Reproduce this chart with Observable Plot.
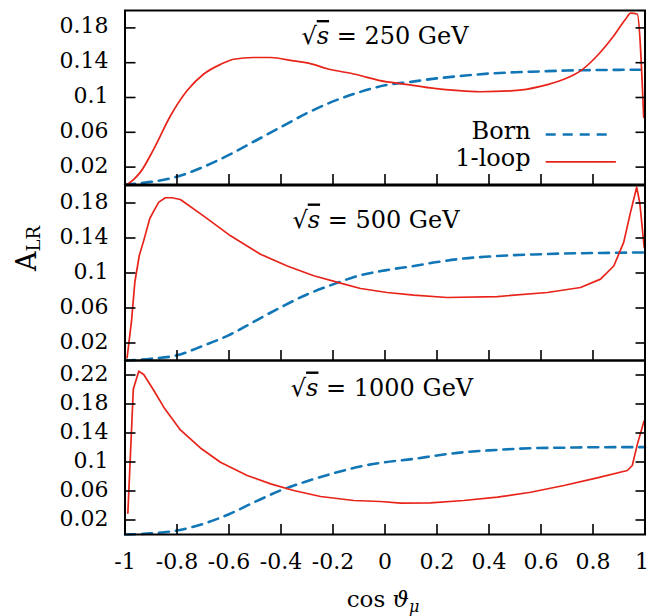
<!DOCTYPE html>
<html><head><meta charset="utf-8">
<script src="https://cdn.jsdelivr.net/npm/d3@7"></script>
<script src="https://cdn.jsdelivr.net/npm/@observablehq/plot@0.6"></script>
<style>
body{margin:0;background:#fff;}
#chart{position:relative;width:649px;height:616px;background:#fff;overflow:hidden;}
#chart svg{position:absolute;left:0;}
</style></head><body><div id="chart"></div>
<script>
// ---- data ----
const energies = [250, 500, 1000];
const seriesNames = ["Born", "1-loop"];
const xTicks = [-1, -0.8, -0.6, -0.4, -0.2, 0, 0.2, 0.4, 0.6, 0.8, 1];
const xTickLabels = ["-1", "-0.8", "-0.6", "-0.4", "-0.2", "0", "0.2", "0.4", "0.6", "0.8", "1"];
const yTicksA = [0.02, 0.06, 0.1, 0.14, 0.18];
const yTickLabelsA = ["0.02", "0.06", "0.1", "0.14", "0.18"];
const yTicksB = [0.02, 0.06, 0.1, 0.14, 0.18, 0.22];
const yTickLabelsB = ["0.02", "0.06", "0.1", "0.14", "0.18", "0.22"];

// sqrt(s) = 250 GeV
const born250X = [-1, -0.9, -0.8, -0.7, -0.6, -0.5, -0.4, -0.3, -0.2, -0.1, 0, 0.1, 0.2, 0.3, 0.4, 0.5, 0.6, 0.7, 0.8, 0.9, 1];
const born250Y = [0, 0.003, 0.009, 0.020, 0.034, 0.050, 0.066, 0.082, 0.0955, 0.106, 0.114, 0.118, 0.122, 0.125, 0.1275, 0.129, 0.130, 0.131, 0.1315, 0.1318, 0.132];
const loop250X = [-0.992, -0.966, -0.94, -0.889, -0.825, -0.761, -0.697, -0.633, -0.582, -0.505, -0.44, -0.351, -0.287, -0.222, -0.12, 0.008, 0.047, 0.175, 0.367, 0.495, 0.598, 0.688, 0.752, 0.816, 0.88, 0.925, 0.945, 0.97, 0.995];
const loop250Y = [0, 0.006, 0.0145, 0.041, 0.079, 0.108, 0.127, 0.138, 0.144, 0.146, 0.146, 0.142, 0.139, 0.133, 0.127, 0.118, 0.1166, 0.111, 0.1066, 0.1078, 0.1128, 0.121, 0.1306, 0.148, 0.171, 0.19, 0.197, 0.196, 0.077];

// sqrt(s) = 500 GeV
const born500X = [-1, -0.9, -0.8, -0.7, -0.6, -0.5, -0.4, -0.3, -0.2, -0.1, 0, 0.111, 0.2, 0.303, 0.4, 0.497, 0.6, 0.688, 0.8, 0.9, 1];
const born500Y = [0, 0.002, 0.006, 0.0168, 0.029, 0.045, 0.061, 0.0755, 0.087, 0.097, 0.103, 0.108, 0.1125, 0.1166, 0.1188, 0.1204, 0.1215, 0.1223, 0.1228, 0.1232, 0.1235];
const loop500X = [-0.992, -0.975, -0.962, -0.945, -0.928, -0.905, -0.889, -0.87, -0.845, -0.82, -0.787, -0.697, -0.594, -0.479, -0.376, -0.274, -0.171, -0.094, 0.008, 0.111, 0.239, 0.432, 0.624, 0.752, 0.829, 0.88, 0.918, 0.944, 0.968, 0.98, 0.997];
const loop500Y = [0.003, 0.045, 0.09, 0.12, 0.137, 0.162, 0.171, 0.181, 0.186, 0.186, 0.184, 0.165, 0.1425, 0.1215, 0.108, 0.0968, 0.0884, 0.0823, 0.0777, 0.0747, 0.072, 0.0731, 0.0777, 0.0834, 0.093, 0.108, 0.135, 0.169, 0.198, 0.18, 0.129];

// sqrt(s) = 1000 GeV
const born1000X = [-1, -0.9, -0.8, -0.7, -0.6, -0.5, -0.4, -0.3, -0.184, -0.1, 0, 0.111, 0.2, 0.303, 0.4, 0.56, 0.7, 0.816, 1];
const born1000Y = [0, 0.0015, 0.0055, 0.0146, 0.028, 0.045, 0.061, 0.0735, 0.0859, 0.0935, 0.0997, 0.1043, 0.109, 0.1135, 0.116, 0.119, 0.1198, 0.1204, 0.1205];
const loop1000X = [-0.989, -0.968, -0.947, -0.928, -0.889, -0.851, -0.787, -0.71, -0.633, -0.53, -0.44, -0.351, -0.248, -0.12, -0.017, 0.06, 0.175, 0.303, 0.432, 0.56, 0.688, 0.816, 0.932, 0.951, 0.971, 0.996];
const loop1000Y = [0.0294, 0.2008, 0.2252, 0.2207, 0.1986, 0.1756, 0.1443, 0.1194, 0.0997, 0.0814, 0.0698, 0.0607, 0.0524, 0.0469, 0.0455, 0.0432, 0.0436, 0.0469, 0.0515, 0.0583, 0.0676, 0.0781, 0.0883, 0.0952, 0.125, 0.1563];

// ---- build ----
const BLUE = "#1176b6";
const RED = "#e8241a";
const FONT = "DejaVu Serif";
const W = 649, ML = 124.5, MR = 4.5;
const frameW = W - ML - MR;

const toRows = (xs, ys) => xs.map((x, i) => ({x, y: ys[i]}));

const panels = [
  {energy: energies[0], bx: born250X, by: born250Y, lx: loop250X, ly: loop250Y, loopCurve: "monotone-x", domain: [0, 0.2], ticks: yTicksA, labels: yTickLabelsA, top: 0, height: 185, mt: 10, mb: 1, titleDx: 0, titleDy: 33.5, legend: true, xaxis: false},
  {energy: energies[1], bx: born500X, by: born500Y, lx: loop500X, ly: loop500Y, loopCurve: "linear", domain: [0, 0.2], ticks: yTicksA, labels: yTickLabelsA, top: 175, height: 186, mt: 10, mb: 1, titleDx: -9, titleDy: 42, legend: false, xaxis: false, ylabel: true},
  {energy: energies[2], bx: born1000X, by: born1000Y, lx: loop1000X, ly: loop1000Y, loopCurve: "linear", domain: [0, 0.24], ticks: yTicksB, labels: yTickLabelsB, top: 350, height: 266, mt: 10, mb: 82, titleDx: -3, titleDy: 35, legend: false, xaxis: true}
];

const ns = "http://www.w3.org/2000/svg";
function tspan(txt, attrs) {
  const t = document.createElementNS(ns, "tspan");
  t.textContent = txt;
  for (const k in attrs) t.setAttribute(k, attrs[k]);
  return t;
}

const chart = document.getElementById("chart");
const nX = xTicks.length;

panels.forEach((p, pi) => {
  const plotH = p.height - p.mt - p.mb;
  const title = `√s = ${p.energy} GeV`;
  const marks = [
    Plot.line(toRows(p.bx, p.by), {x: "x", y: "y", curve: "monotone-x", stroke: BLUE, strokeWidth: 2.6, strokeDasharray: "10,7"}),
    Plot.line(toRows(p.lx, p.ly), {x: "x", y: "y", curve: p.loopCurve, stroke: RED, strokeWidth: 1.7}),
    // inward ticks
    Plot.tickY(p.ticks, {y: d => d, insetRight: frameW - 11, strokeWidth: 1.6}),
    Plot.tickY(p.ticks, {y: d => d, insetLeft: frameW - 9, strokeWidth: 1.6}),
    Plot.tickX(xTicks.slice(1, -1), {x: d => d, insetTop: plotH - 10, strokeWidth: 1.6}),
    Plot.axisY(p.ticks, {tickSize: 0, tickPadding: 16.5, tickFormat: (d, i) => p.labels[i], fontSize: 22, dy: -1.5, label: null}),
    Plot.text([title], {frameAnchor: "top", lineAnchor: "bottom", dy: p.titleDy, dx: p.titleDx, fontSize: 24})
  ];
  if (p.legend) {
    marks.push(
      Plot.text([seriesNames[0]], {x: 0.56, y: 0.0518, textAnchor: "end", lineAnchor: "bottom", fontSize: 24}),
      Plot.text([seriesNames[1]], {x: 0.56, y: 0.0214, textAnchor: "end", lineAnchor: "bottom", fontSize: 24}),
      Plot.ruleY([0.0575], {x1: 0.62, x2: 0.875, stroke: BLUE, strokeWidth: 2.6, strokeDasharray: "10,7"}),
      Plot.ruleY([0.026], {x1: 0.62, x2: 0.89, stroke: RED, strokeWidth: 1.7})
    );
  }
  if (p.ylabel) {
    marks.push(Plot.text(["ALR"], {frameAnchor: "left", rotate: -90, dx: -89.5, dy: -2, lineAnchor: "bottom", fontSize: 27}));
  }
  if (p.xaxis) {
    marks.push(Plot.axisX(xTicks.slice(0, nX - 1), {tickSize: 0, tickPadding: 18.5, tickFormat: (d, i) => xTickLabels[i], fontSize: 22, label: null}));
    marks.push(Plot.axisX(xTicks.slice(nX - 1), {tickSize: 0, tickPadding: 18.5, tickFormat: () => xTickLabels[nX - 1], fontSize: 22, dx: -3, label: null}));
    marks.push(Plot.text(["cos ϑμ"], {frameAnchor: "bottom", lineAnchor: "bottom", dy: 72.5, dx: -2, fontSize: 23}));
  }
  marks.push(Plot.frame({strokeWidth: 2}));

  const svg = Plot.plot({
    width: W,
    height: p.height,
    marginLeft: ML,
    marginRight: MR,
    marginTop: p.mt,
    marginBottom: p.mb,
    style: {fontFamily: FONT, fontSize: "22px", background: "transparent", color: "#000", overflow: "visible"},
    x: {domain: [-1, 1], axis: null},
    y: {domain: p.domain, axis: null},
    marks
  });
  svg.style.top = p.top + "px";
  // rich text formatting
  svg.querySelectorAll("text").forEach(t => {
    const c = t.textContent;
    if (c === title) {
      t.textContent = "";
      t.appendChild(tspan("√", {}));
      t.appendChild(tspan("s", {"font-style": "italic", "text-decoration": "overline"}));
      t.appendChild(tspan(` = ${p.energy} GeV`, {}));
    } else if (c === "ALR") {
      t.textContent = "";
      t.appendChild(tspan("A", {}));
      t.appendChild(tspan("LR", {"font-size": "18", "dy": "4"}));
    } else if (c === "cos ϑμ") {
      t.textContent = "";
      t.appendChild(tspan("cos ", {}));
      t.appendChild(tspan("ϑ", {"font-style": "italic"}));
      t.appendChild(tspan("μ", {"font-style": "italic", "font-size": "16", "dy": "5"}));
    }
  });
  chart.appendChild(svg);
});
</script>
</body></html>
